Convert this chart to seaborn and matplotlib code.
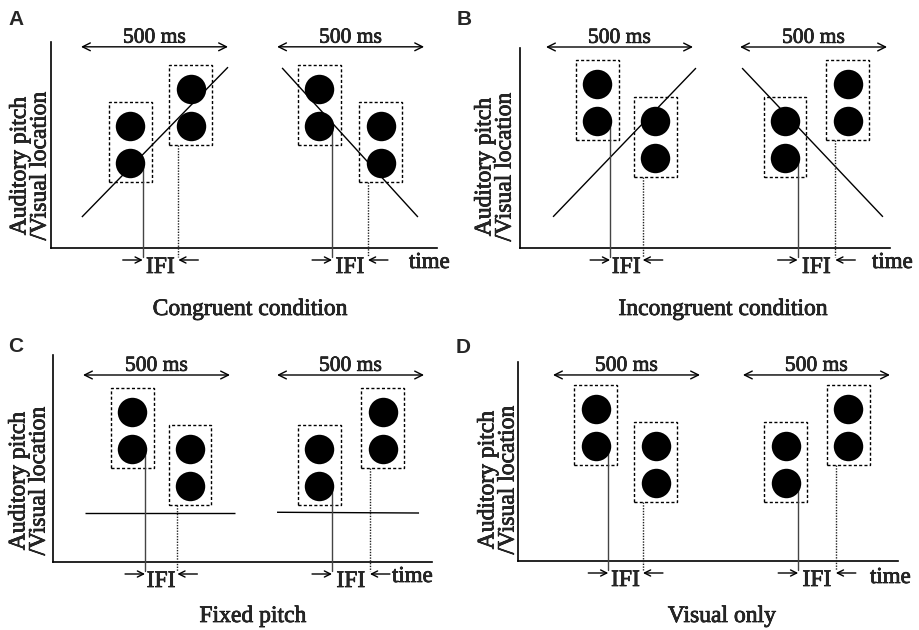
import matplotlib
matplotlib.use("Agg")
import matplotlib.pyplot as plt
import matplotlib.patheffects as pe
from matplotlib.patches import Rectangle
import seaborn as sns
import pandas as pd

# ---------------------------------------------------------------------------
# data (one entry per panel)
# ---------------------------------------------------------------------------
panels = ["A", "B", "C", "D"]
panel_titles = ["Congruent condition", "Incongruent condition", "Fixed pitch", "Visual only"]

# flash centre times in ms (2 flashes per trial, 2 trials)
flash_times = {
    "A": [167, 374, 811, 1019],
    "B": [175, 372, 813, 1027],
    "C": [168, 364, 804, 1019],
    "D": [145, 349, 791, 1005],
}
# visual location of the lower dot of each flash (dots at level and level + 1)
flash_levels = {
    "A": [1, 2, 2, 1],
    "B": [2, 1, 1, 2],
    "C": [2, 1, 1, 2],
    "D": [2, 1, 1, 2],
}
trial_onsets = {"A": [0, 667], "B": [0, 660], "C": [0, 660], "D": [0, 646]}
trial_duration = 500

# auditory pitch: (t_start, t_end, pitch_start, pitch_end)
pitch_sweeps = {
    "A": [(3, 500, -0.46, 3.59), (684, 1146, 3.57, -0.46)],
    "B": [(24, 510, -0.59, 3.43), (667, 1146, 3.43, -0.59)],
    "C": [(7, 517, 0.27, 0.27), (660, 1143, 0.29, 0.27)],
    "D": [],
}
flash_half = 43  # ms, half duration of a flash

# ---------------------------------------------------------------------------
# layout (pixels of the 919 x 630 figure)
# ---------------------------------------------------------------------------
W, H = 919, 630
PX_MS = 0.294
PX_LEVEL = 37.0
layout = {
    "A": dict(x0=51, y0=248, w=386, h=206, off=30, base=85, arrow=4.14,
              letter=(8, 25), ylab=(30, 166), title=(250, 315), time=(409, 268)),
    "B": dict(x0=520, y0=248, w=370, h=200, off=26, base=90, arrow=4.0,
              letter=(457, 25), ylab=(495, 167), title=(723, 315), time=(872, 268)),
    "C": dict(x0=53, y0=562, w=379, h=207, off=30, base=76, arrow=4.0,
              letter=(8, 352), ylab=(29, 481), title=(253, 622), time=(392, 582)),
    "D": dict(x0=518, y0=561, w=380, h=199, off=35, base=78, arrow=3.92,
              letter=(456, 353), ylab=(498, 480), title=(722, 622), time=(870, 583)),
}

sns.set_theme(style="white")
plt.rcParams['font.family'] = ['Liberation Serif', 'DejaVu Serif']

# slightly heavier text, like the scanned original
heavy = [pe.withStroke(linewidth=0.5, foreground="black")]

fig = plt.figure(figsize=(W / 100, H / 100), dpi=100, facecolor="white")


def fx(x):
    return x / W


def fy(y):
    return 1 - y / H


for name, title in zip(panels, panel_titles):
    L = layout[name]
    ax = fig.add_axes([fx(L["x0"]), fy(L["y0"]), L["w"] / W, L["h"] / H])
    ax.patch.set_alpha(0)
    xlim = (-L["off"] / PX_MS, (L["w"] - L["off"]) / PX_MS)
    ylim = (1 - L["base"] / PX_LEVEL, 1 + (L["h"] - L["base"]) / PX_LEVEL)
    ax.set_xlim(*xlim)
    ax.set_ylim(*ylim)
    ax.set_xticks([])
    ax.set_yticks([])
    for s in ["top", "right"]:
        ax.spines[s].set_visible(False)
    for s in ["left", "bottom"]:
        ax.spines[s].set_color("black")
        ax.spines[s].set_linewidth(1.2)

    # 500 ms arrows
    for t0 in trial_onsets[name]:
        ax.annotate("", xy=(t0 + trial_duration, L["arrow"]), xytext=(t0, L["arrow"]),
                    arrowprops=dict(arrowstyle="<->", lw=1, color="black",
                                    shrinkA=0, shrinkB=0, mutation_scale=14),
                    annotation_clip=False)
        ax.annotate(f"{trial_duration} ms", xy=(t0 + trial_duration / 2, L["arrow"]),
                    xytext=(0, 3), textcoords="offset points", ha="center",
                    va="baseline", fontsize=15.5, annotation_clip=False,
                    path_effects=heavy)

    # pitch sweeps
    for t0, t1, p0, p1 in pitch_sweeps[name]:
        ax.plot([t0, t1], [p0, p1], color="black", lw=1, solid_capstyle="butt",
                clip_on=False, zorder=2)

    # dashed boxes around each flash
    for t, lv in zip(flash_times[name], flash_levels[name]):
        ax.add_patch(Rectangle((t - 73, lv - 0.52), 146, 1 + 0.52 + 0.65, fill=False,
                               ec="black", lw=1, ls=(0, (2.2, 1.6)), zorder=2))

    # dots
    rows = []
    for t, lv in zip(flash_times[name], flash_levels[name]):
        rows.append({"time": t, "level": lv})
        rows.append({"time": t, "level": lv + 1})
    df = pd.DataFrame(rows)
    sns.scatterplot(data=df, x="time", y="level", color="black", s=450,
                    linewidth=0, legend=False, ax=ax, zorder=4)
    ax.set_xlabel("")
    ax.set_ylabel("")

    # IFI markers
    y_bot = ylim[0] - 9 / PX_LEVEL
    y_arr = ylim[0] - 12 / PX_LEVEL
    y_txt = ylim[0] - 25 / PX_LEVEL
    ft, fl = flash_times[name], flash_levels[name]
    for k in range(2):
        t_off = ft[2 * k] + flash_half
        t_on = ft[2 * k + 1] - flash_half
        ax.plot([t_off, t_off], [fl[2 * k], y_bot], color="#444444", lw=1,
                clip_on=False, zorder=3)
        ax.plot([t_on, t_on], [fl[2 * k + 1] - 0.52, y_bot], color="#222222",
                lw=1, ls=(0, (1, 1)), clip_on=False, zorder=3)
        ax.annotate("", xy=(t_off, y_arr), xytext=(t_off - 68, y_arr),
                    arrowprops=dict(arrowstyle="->", lw=1, color="black",
                                    shrinkA=0, shrinkB=0, mutation_scale=11),
                    annotation_clip=False)
        ax.annotate("", xy=(t_on, y_arr), xytext=(t_on + 68, y_arr),
                    arrowprops=dict(arrowstyle="->", lw=1, color="black",
                                    shrinkA=0, shrinkB=0, mutation_scale=11),
                    annotation_clip=False)
        ax.text((t_off + t_on) / 2, y_txt, "IFI", ha="center", va="baseline",
                fontsize=17, clip_on=False, path_effects=heavy)

    # texts around the panel
    fig.text(fx(L["time"][0]), fy(L["time"][1]), "time", ha="left", va="baseline",
             fontsize=16.5, path_effects=heavy)
    fig.text(fx(L["title"][0]), fy(L["title"][1]), title, ha="center",
             va="baseline", fontsize=17, path_effects=heavy)
    fig.text(fx(L["ylab"][0]), fy(L["ylab"][1]), "Auditory pitch\n/Visual location",
             rotation=90, ha="center", va="center", fontsize=17, linespacing=0.95,
             multialignment="center", path_effects=heavy)
    fig.text(fx(L["letter"][0]), fy(L["letter"][1]), name, ha="left",
             va="baseline", fontsize=15, fontweight="bold",
             family=["Liberation Sans", "DejaVu Sans"])

fig.savefig("out.png", dpi=100, facecolor="white")
